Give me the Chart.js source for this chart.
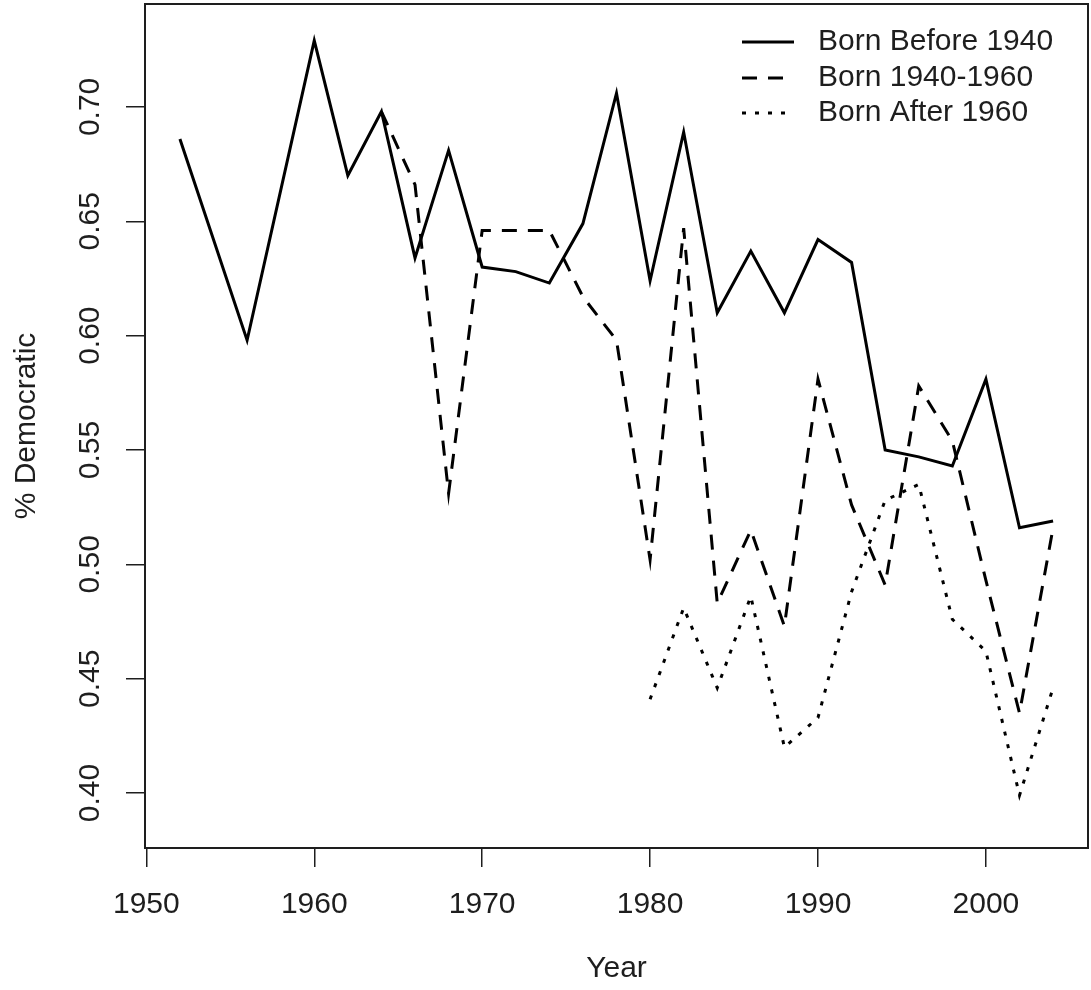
<!DOCTYPE html>
<html>
<head>
<meta charset="utf-8">
<title>% Democratic by birth cohort</title>
<script src="https://cdn.jsdelivr.net/npm/chart.js@4.4.1/dist/chart.umd.min.js"></script>
<style>
    html, body { margin: 0; padding: 0; background: #ffffff; }
    canvas { display: block; }
</style>
</head>
<body>
<canvas id="demChart" width="1091" height="990"></canvas>
<script>
// Data
const yearsBefore1940 = [1952, 1956, 1960, 1962, 1964, 1966, 1968, 1970, 1972, 1974, 1976, 1978, 1980,
    1982, 1984, 1986, 1988, 1990, 1992, 1994, 1996, 1998, 2000, 2002, 2004];
const bornBefore1940 = [0.686, 0.598, 0.729, 0.670, 0.698, 0.634, 0.681, 0.630, 0.628, 0.623, 0.649, 0.706, 0.624,
    0.689, 0.610, 0.637, 0.610, 0.642, 0.632, 0.550, 0.547, 0.543, 0.581, 0.516, 0.519];

const years1940to1960 = [1964, 1966, 1968, 1970, 1972, 1974, 1976, 1978, 1980, 1982, 1984, 1986, 1988,
    1990, 1992, 1994, 1996, 1998, 2000, 2002, 2004];
const born1940to1960 = [0.698, 0.666, 0.531, 0.646, 0.646, 0.646, 0.617, 0.598, 0.502, 0.647, 0.483, 0.515, 0.473,
    0.581, 0.526, 0.491, 0.578, 0.554, 0.493, 0.435, 0.516];

const yearsAfter1960 = [1980, 1982, 1984, 1986, 1988, 1990, 1992, 1994, 1996, 1998, 2000, 2002, 2004];
const bornAfter1960 = [0.441, 0.481, 0.446, 0.486, 0.420, 0.433, 0.488, 0.528, 0.535, 0.476, 0.462, 0.399, 0.446];

const seriesNames = ['Born Before 1940', 'Born 1940-1960', 'Born After 1960'];
const xTicks = [1950, 1960, 1970, 1980, 1990, 2000];
const yTicks = [0.40, 0.45, 0.50, 0.55, 0.60, 0.65, 0.70];

const FONT = '30px "Liberation Sans", Arial, sans-serif';
const INK = '#1e1e1e';

function toPoints(xs, ys) {
    return xs.map((x, i) => ({ x: x, y: ys[i] }));
}

// box, tick labels, titles and legend in the R base-graphics look
const rStylePlugin = {
    id: 'rStyle',
    afterDraw(chart) {
        const ctx = chart.ctx;
        const area = chart.chartArea;
        const xs = chart.scales.x;
        const ys = chart.scales.y;

        ctx.save();
        ctx.strokeStyle = INK;
        ctx.lineWidth = 2;
        ctx.setLineDash([]);
        ctx.strokeRect(area.left, area.top, area.right - area.left, area.bottom - area.top);

        ctx.fillStyle = INK;
        ctx.font = FONT;
        ctx.textAlign = 'center';
        ctx.textBaseline = 'middle';

        // x tick labels
        xTicks.forEach(v => {
            ctx.fillText(String(v), xs.getPixelForValue(v), 905);
        });
        ctx.fillText('Year', (area.left + area.right) / 2, 969);

        // y tick labels (vertical, like las = 0)
        yTicks.forEach(v => {
            ctx.save();
            ctx.translate(91, ys.getPixelForValue(v));
            ctx.rotate(-Math.PI / 2);
            ctx.fillText(v.toFixed(2), 0, 0);
            ctx.restore();
        });
        ctx.save();
        ctx.translate(27, (area.top + area.bottom) / 2);
        ctx.rotate(-Math.PI / 2);
        ctx.fillText('% Democratic', 0, 0);
        ctx.restore();

        // legend, top right, no frame
        const rows = [42, 78, 113];
        chart.data.datasets.forEach((ds, i) => {
            ctx.beginPath();
            ctx.strokeStyle = ds.borderColor;
            ctx.lineWidth = ds.borderWidth;
            ctx.setLineDash(ds.borderDash || []);
            ctx.moveTo(742, rows[i]);
            ctx.lineTo(794, rows[i]);
            ctx.stroke();
            ctx.setLineDash([]);
            ctx.textAlign = 'left';
            ctx.fillText(ds.label, 818, rows[i]);
        });
        ctx.restore();
    }
};

const axisGrid = {
    drawOnChartArea: false,
    drawTicks: true,
    tickLength: 19,
    color: INK,
    lineWidth: 1.5
};

const ctx = document.getElementById('demChart').getContext('2d');
const demChart = new Chart(ctx, {
    type: 'line',
    data: {
        datasets: [{
            label: seriesNames[0],
            data: toPoints(yearsBefore1940, bornBefore1940),
            borderColor: '#000000',
            borderWidth: 3,
            pointRadius: 0,
            tension: 0,
            fill: false
        }, {
            label: seriesNames[1],
            data: toPoints(years1940to1960, born1940to1960),
            borderColor: '#000000',
            borderWidth: 3,
            borderDash: [15, 11],
            pointRadius: 0,
            tension: 0,
            fill: false
        }, {
            label: seriesNames[2],
            data: toPoints(yearsAfter1960, bornAfter1960),
            borderColor: '#000000',
            borderWidth: 3,
            borderDash: [4, 9],
            pointRadius: 0,
            tension: 0,
            fill: false
        }]
    },
    options: {
        responsive: false,
        animation: false,
        devicePixelRatio: 1,
        layout: {
            padding: { left: 0, right: 3, top: 4, bottom: 0 }
        },
        plugins: {
            legend: { display: false },
            tooltip: { enabled: false }
        },
        scales: {
            x: {
                type: 'linear',
                min: 1949.92,
                max: 2006.08,
                grid: axisGrid,
                border: { display: false },
                ticks: { display: false },
                afterBuildTicks: function(scale) {
                    scale.ticks = xTicks.map(v => ({ value: v }));
                },
                afterFit: function(scale) {
                    scale.height = 142;
                }
            },
            y: {
                type: 'linear',
                min: 0.376,
                max: 0.745,
                grid: axisGrid,
                border: { display: false },
                ticks: { display: false },
                afterBuildTicks: function(scale) {
                    scale.ticks = yTicks.map(v => ({ value: v }));
                },
                afterFit: function(scale) {
                    scale.width = 145;
                }
            }
        }
    },
    plugins: [rStylePlugin]
});
</script>
</body>
</html>
